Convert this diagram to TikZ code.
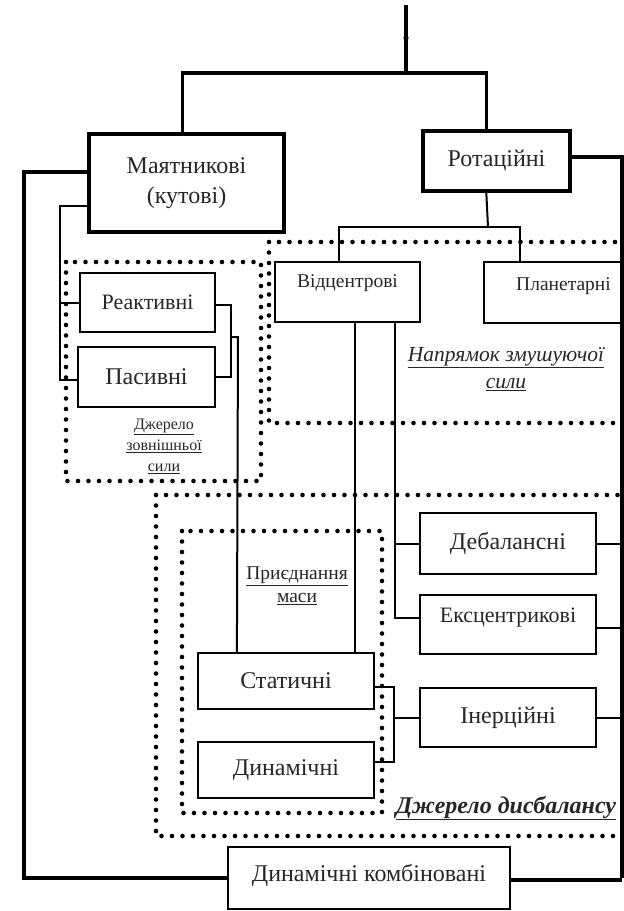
\documentclass[tikz,border=0pt]{standalone}
\usepackage{fontspec}
\setmainfont{Liberation Serif}
\begin{document}
\begin{tikzpicture}[x=1pt,y=-1pt,
  box/.style={draw=black, line width=2.2pt, inner sep=0pt, text=black!85, align=center},
  bigbox/.style={box, line width=3.4pt},
  txt/.style={inner sep=0pt, text=black!85, align=center},
  thickline/.style={line width=3.4pt},
  thinline/.style={line width=2pt},
  dotbox/.style={line width=4.6pt, line cap=round, dash pattern=on 0pt off 10.5pt},
  big/.style={font=\fontsize{24}{30}\selectfont},
  mid/.style={font=\fontsize{22}{26}\selectfont},
  small/.style={font=\fontsize{19.5}{23}\selectfont}
]
\clip (0,0) rectangle (624,911);
\fill[white] (0,0) rectangle (624,911);

% dotted group frames
\draw[dotbox] (66,262) rectangle (261,481);
\draw[dotbox] (269,242) rectangle (660,423);
\draw[dotbox] (156,495) rectangle (660,836);
\draw[dotbox] (182,531) rectangle (382,813);

% boxes
\node[bigbox, big, minimum width=195pt, minimum height=98pt] (mayat) at (186.5,183) {Маятникові\\(кутові)};
\node[bigbox, big, minimum width=147pt, minimum height=60pt] (rot) at (496.5,161) {Ротаційні};
\node[box, mid, minimum width=135pt, minimum height=59pt] (react) at (147.5,302.5) {Реактивні};
\node[box, big, minimum width=137pt, minimum height=60pt] (pas) at (146.5,377) {Пасивні};
\node[box, minimum width=145pt, minimum height=60pt] (vidc) at (347.5,292) {};
\node[txt, small] (vidct) at (347.5,283) {Відцентрові};
\node[box, minimum width=156pt, minimum height=61pt] (plan) at (562,292.5) {};
\node[txt, small] (plant) at (563.5,286) {Планетарні};
\node[box, big, minimum width=176pt, minimum height=61pt] (deb) at (508,543.5) {Дебалансні};
\node[box, mid, minimum width=176pt, minimum height=59pt] (ecc) at (508,624.5) {};
\node[txt, mid] (ecct) at (508,618) {Ексцентрикові};
\node[box, big, minimum width=176pt, minimum height=59pt] (iner) at (508,717.5) {Інерційні};
\node[box, big, minimum width=176pt, minimum height=56pt] (stat) at (286,681) {Статичні};
\node[box, big, minimum width=176pt, minimum height=56pt] (dyn) at (286,770) {Динамічні};
\node[box, minimum width=282pt, minimum height=62pt] (comb) at (369,878) {};
\node[txt, big] (combt) at (369,875) {Динамічні комбіновані};

% group labels
\node[txt, font=\fontsize{16}{21}\selectfont] (lbl1) at (164,446) {\underline{Джерело}\\\underline{зовнішньої}\\\underline{сили}};
\node[txt, font=\itshape\fontsize{21.5}{27}\selectfont] (lbl2) at (506,369) {\underline{Напрямок змушуючої}\\\underline{сили}};
\node[txt, font=\fontsize{19.5}{23}\selectfont] (lbl3) at (297,586) {\underline{Приєднання}\\\underline{маси}};
\node[txt, font=\bfseries\itshape\fontsize{24}{26}\selectfont] (lbl4) at (506,808) {\underline{Джерело дисбалансу}};

% top connectors
\coordinate (top) at (406,5);
\coordinate (junc) at (406,73);
\fill (406,38) circle (2.6pt);
\draw[thickline] (top) -- (junc);
\draw[thickline] ([xshift=95pt]mayat.north west) |- (junc) -| ([xshift=65pt]rot.north west);

% right bus
\coordinate (rbus) at (622,157);
\draw[thickline] ([yshift=4pt]rot.east) -- (rbus) -- (rbus |- comb.east);
\draw[thinline] (deb.east) -- (deb.east -| rbus);
\draw[thinline] ([yshift=-3pt]ecc.east) -- ([yshift=-3pt]ecc.east -| rbus);
\draw[thinline] (iner.east) -- (iner.east -| rbus);
\draw[thickline] ([yshift=-2pt]comb.east) -- ([yshift=-2pt]comb.east -| rbus);

% left bus
\coordinate (lbus) at (24,172);
\draw[thickline] ([yshift=11pt]mayat.west) -| (lbus) |- (comb.west);

% thin left feed to Реактивні / Пасивні
\coordinate (lfeed) at (60,206);
\draw[thinline] ([yshift=-23pt]mayat.west) -- (lfeed) |- ([yshift=-3pt]pas.west);
\draw[thinline] (lfeed |- react.west) -- (react.west);

% right side of Реактивні / Пасивні
\coordinate (rr) at (231,305);
\draw[thinline] ([yshift=-2.5pt]react.east) -- (rr) |- (pas.east);
\draw[thinline] (rr |- 0,337) -- (238,337) -- ([xshift=40pt]stat.north west);

% Ротаційні fork
\coordinate (fork) at (488,227);
\draw[thinline] ([xshift=65pt]rot.south west) -- (fork);
\draw[thinline] ([xshift=65pt]vidc.north west) |- (fork) -| ([xshift=37pt]plan.north west);

% Відцентрові down lines
\draw[thinline] ([xshift=81pt]vidc.south west) -- ([xshift=158pt]stat.north west);
\coordinate (vbus) at (396,322);
\draw[thinline] ([xshift=121pt]vidc.south west) |- ([yshift=7pt]ecc.west);
\draw[thinline] (deb.west) -- (deb.west -| vbus);

% Статичні / Динамічні to Інерційні
\coordinate (sb) at (394,687);
\draw[thinline] ([yshift=-6pt]stat.east) -- (sb) |- ([yshift=8pt]dyn.east);
\draw[thinline] (iner.west) -- (iner.west -| sb);
\end{tikzpicture}
\end{document}
